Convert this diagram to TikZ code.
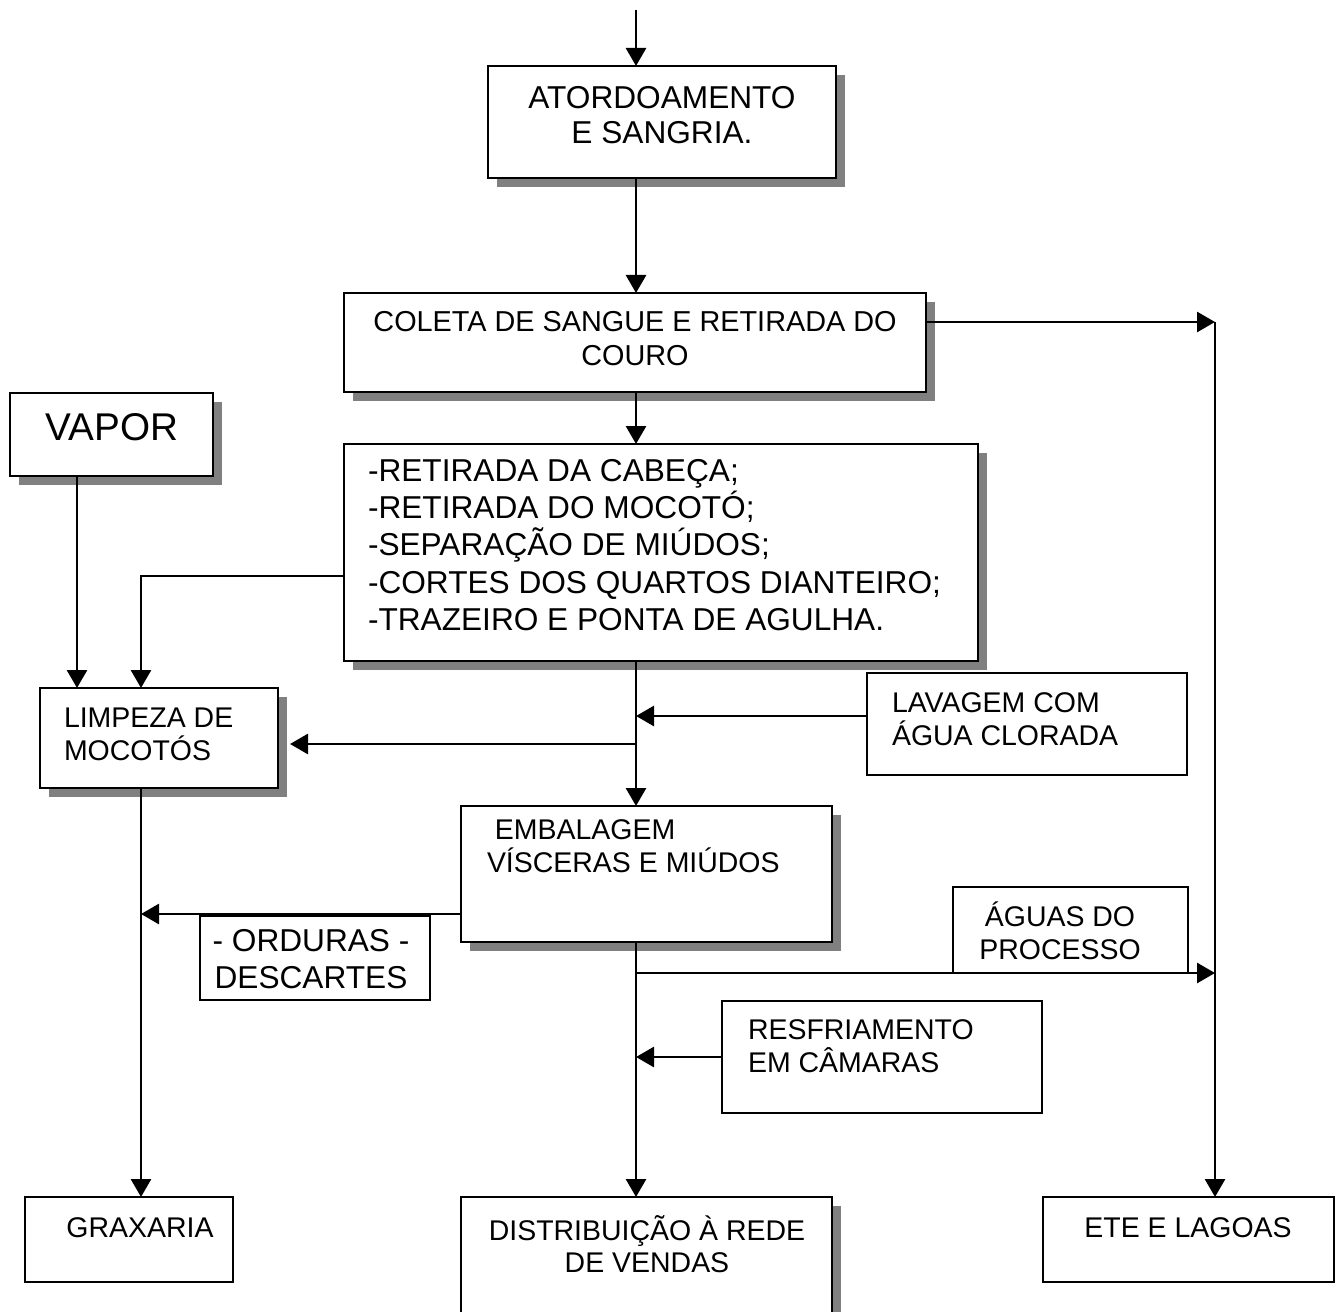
\documentclass[tikz,border=0pt]{standalone}
\usepackage{fontspec}
\setmainfont{Liberation Sans}
\usetikzlibrary{positioning,calc,arrows.meta,shadows}

\begin{document}
\begin{tikzpicture}[every node/.style={outer sep=0pt},thick,
		box/.style={draw,thick,fill=white},
		sbox/.style={box,drop shadow={shadow xshift=0.9mm,shadow yshift=-0.9mm,
		fill=black!50,opacity=1}},
		txt/.style={inner sep=0pt,font=\fontsize{8.1}{9.3}\selectfont},
		bigtxt/.style={inner sep=0pt,font=\fontsize{9}{10.6}\selectfont},
		arr/.style={-{Triangle[length=1.8mm,width=2mm]}},
		]
		\useasboundingbox (0,0) rectangle (13.40,-13.11);

		% boxes
		\node[sbox,minimum width=3.48cm,minimum height=1.12cm] (atord) at (6.62,-1.22) {};
		\node[sbox,minimum width=5.82cm,minimum height=0.99cm] (coleta) at (6.35,-3.425) {};
		\node[sbox,minimum width=2.03cm,minimum height=0.83cm] (vapor) at (1.115,-4.345) {};
		\node[sbox,minimum width=6.34cm,minimum height=2.17cm] (cortes) at (6.61,-5.525) {};
		\node[sbox,minimum width=2.38cm,minimum height=1.00cm] (limpeza) at (1.59,-7.38) {};
		\node[box,minimum width=3.20cm,minimum height=1.02cm] (lavagem) at (10.27,-7.24) {};
		\node[sbox,minimum width=3.71cm,minimum height=1.36cm] (embal) at (6.465,-8.74) {};
		\node[box,minimum width=2.30cm,minimum height=0.84cm] (orduras) at (3.15,-9.58) {};
		\node[box,minimum width=2.35cm,minimum height=0.86cm] (aguas) at (10.705,-9.30) {};
		\node[box,minimum width=3.20cm,minimum height=1.12cm] (resfr) at (8.82,-10.57) {};
		\node[box,minimum width=2.08cm,minimum height=0.85cm] (grax) at (1.29,-12.395) {};
		\node[sbox,minimum width=3.71cm,minimum height=1.33cm] (distr) at (6.465,-12.635) {};
		\node[box,minimum width=2.91cm,minimum height=0.85cm] (ete) at (11.885,-12.395) {};

		% texts
		\node[bigtxt,align=center,font=\fontsize{9}{10}\selectfont] (atord-t) at (6.62,-1.155) {ATORDOAMENTO\\E SANGRIA.};
		\node[txt,align=center,font=\fontsize{8.2}{9.7}\selectfont] (coleta-t) at (6.35,-3.39) {COLETA DE SANGUE E RETIRADA DO\\COURO};
		\node[txt,font=\fontsize{11}{13}\selectfont] (vapor-t) at (1.12,-4.27) {VAPOR};
		\node[bigtxt,align=left,anchor=west] (cortes-t) at (3.68,-5.45) {-RETIRADA DA CABEÇA;\\-RETIRADA DO MOCOTÓ;\\-SEPARAÇÃO DE MIÚDOS;\\-CORTES DOS QUARTOS DIANTEIRO;\\-TRAZEIRO E PONTA DE AGULHA.};
		\node[txt,align=left,anchor=west] (limpeza-t) at (0.64,-7.34) {LIMPEZA DE\\MOCOTÓS};
		\node[txt,align=left,anchor=west] (lavagem-t) at (8.92,-7.19) {LAVAGEM COM\\ÁGUA CLORADA};
		\node[txt,align=left,anchor=west] (embal-t) at (4.87,-8.46) {\ EMBALAGEM\\VÍSCERAS E MIÚDOS};
		\node[bigtxt,align=center] (orduras-t) at (3.11,-9.59) {- ORDURAS -\\DESCARTES};
		\node[txt,align=center] (aguas-t) at (10.60,-9.31) {ÁGUAS DO\\PROCESSO};
		\node[txt,align=left,anchor=west] (resfr-t) at (7.48,-10.46) {RESFRIAMENTO\\EM CÂMARAS};
		\node[txt] (grax-t) at (1.40,-12.28) {GRAXARIA};
		\node[txt,align=center] (distr-t) at (6.47,-12.44) {DISTRIBUIÇÃO À REDE\\DE VENDAS};
		\node[txt] (ete-t) at (11.88,-12.28) {ETE E LAGOAS};

		% connectors
		\coordinate (top) at (6.36,-0.10);
		\coordinate (r1) at (12.15,-3.22);
		\coordinate (v1) at (0.77,0);
		\coordinate (c1) at (1.41,-5.76);
		\coordinate (l1) at (6.36,-7.16);
		\coordinate (l2) at (6.36,-7.44);
		\coordinate (e1) at (1.41,-9.14);
		\coordinate (a1) at (6.36,-9.73);

		\draw[arr] (top) -- (top |- atord.north);
		\draw[arr] (top |- atord.south) -- (top |- coleta.north);
		\draw[arr] (top |- coleta.south) -- (top |- cortes.north);
		\draw[arr] (r1 -| coleta.east) -- (r1);
		\draw[arr] (r1) -- (r1 |- ete.north);
		\draw[arr] (v1 |- vapor.south) -- (v1 |- limpeza.north);
		\draw[arr] (c1 -| cortes.west) -- (c1) -- (c1 |- limpeza.north);
		\draw[arr] (top |- cortes.south) -- (top |- embal.north);
		\draw[arr] (l1 -| lavagem.west) -- (l1);
		\draw[arr] (l2) -- ($(l2 -| limpeza.east)+(0.12,0)$);
		\draw[arr] (e1 -| embal.west) -- (e1);
		\draw[arr] (c1 |- limpeza.south) -- (c1 |- grax.north);
		\draw[arr] (top |- embal.south) -- (top |- distr.north);
		\draw[arr] (a1) -- (a1 -| r1);
		\draw[arr] (resfr.west) -- (resfr.west -| top);
\end{tikzpicture}
\end{document}
